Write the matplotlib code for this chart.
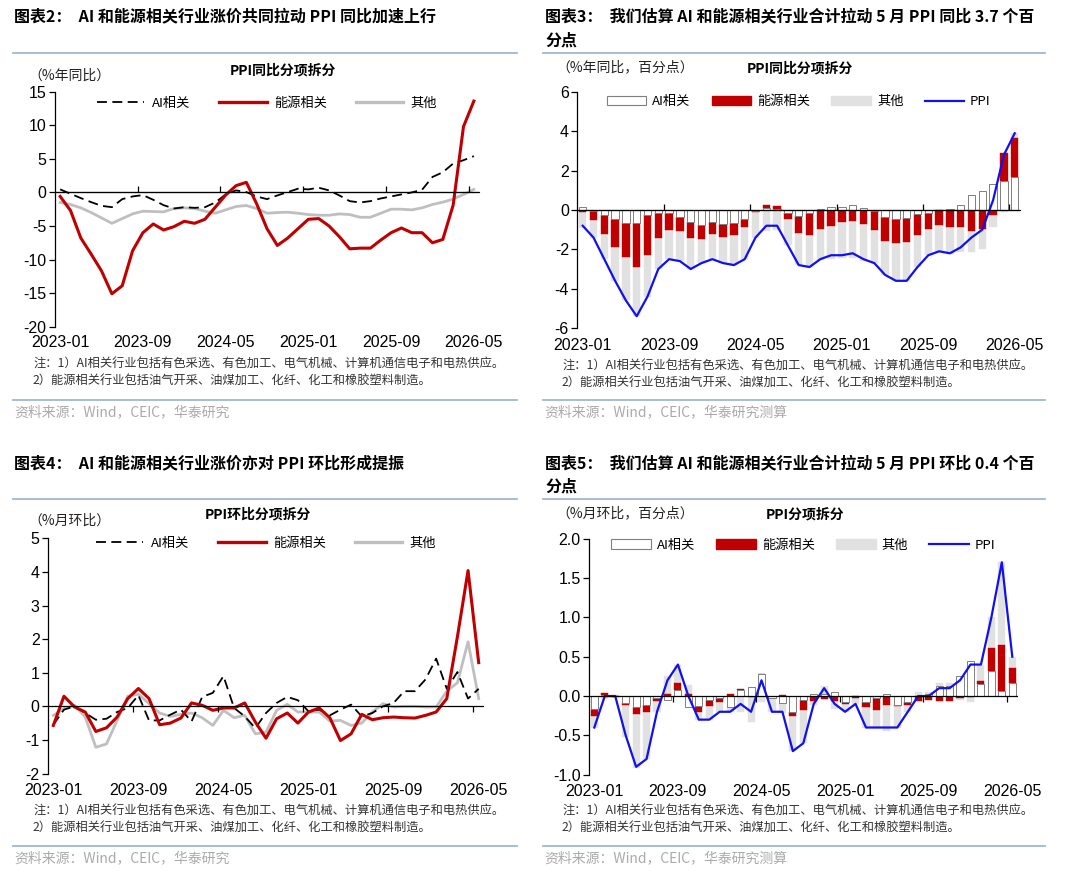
import matplotlib
matplotlib.use('Agg')
import matplotlib.pyplot as plt
from matplotlib.lines import Line2D
from matplotlib.patches import Patch
import numpy as np

plt.rcParams['font.family'] = ['Noto Sans CJK SC', 'DejaVu Sans']

# ---------------- data ----------------
months = [f'{y}-{m:02d}' for y in range(2023, 2027) for m in range(1, 13)][:41]
tick_labels = ['2023-01', '2023-09', '2024-05', '2025-01', '2025-09', '2026-05']

# Chart 2: YoY of industry groups (%)
yoy_ai = [0.45, -0.2, -0.85, -1.45, -2.0, -2.2, -1.0, -0.6, -0.4, -1.1, -1.9, -2.4, -2.2, -2.3, -2.2, -1.5,
          -0.3, 0.3, 0.05, -0.6, -1.0, -0.45, 0.05, 0.55, 0.45, 0.7, 0.3, -0.45, -1.3, -1.5, -1.3, -0.9,
          -0.6, -0.3, 0.0, 0.4, 2.3, 3.0, 4.3, 4.8, 5.4]
yoy_energy = [-0.6, -2.7, -6.8, -9.2, -11.7, -15.1, -13.9, -8.7, -6.0, -4.7, -5.6, -5.1, -4.3, -4.6, -4.0, -2.2,
              -0.4, 1.0, 1.5, -1.7, -5.4, -7.9, -6.8, -5.4, -4.0, -3.9, -5.0, -6.6, -8.4, -8.3, -8.3, -7.1,
              -6.0, -5.3, -6.0, -6.0, -7.5, -7.0, -1.9, 9.8, 13.6]
yoy_other = [-1.5, -1.8, -2.3, -3.0, -3.8, -4.6, -3.9, -3.2, -2.8, -2.85, -2.9, -2.4, -2.3, -2.4, -2.8, -3.1,
             -2.6, -2.1, -1.95, -2.4, -3.1, -3.0, -2.95, -3.1, -3.3, -3.4, -3.4, -3.2, -3.3, -3.7, -3.7, -3.1,
             -2.5, -2.5, -2.6, -2.3, -1.8, -1.45, -1.0, -0.3, 0.45]

# Chart 3: YoY contributions (pp) and PPI YoY
ppi_yoy = [-0.8, -1.4, -2.5, -3.6, -4.6, -5.4, -4.4, -3.0, -2.5, -2.6, -3.0, -2.7, -2.5, -2.7, -2.8, -2.5,
           -1.4, -0.8, -0.8, -1.8, -2.8, -2.9, -2.5, -2.3, -2.3, -2.2, -2.5, -2.7, -3.3, -3.6, -3.6, -2.9,
           -2.3, -2.1, -2.2, -1.9, -1.4, -1.0, 0.5, 2.8, 3.9]
con_yoy_ai = [0.14, -0.03, -0.25, -0.46, -0.64, -0.64, -0.25, -0.14, -0.17, -0.37, -0.63, -0.78, -0.61, -0.73,
              -0.66, -0.46, -0.04, 0.08, 0.03, -0.17, -0.30, -0.14, 0.05, 0.17, 0.14, 0.24, 0.08, -0.03, -0.34,
              -0.44, -0.42, -0.22, -0.14, 0.02, 0.05, 0.24, 0.75, 0.98, 1.32, 1.45, 1.66]
con_yoy_energy = [-0.08, -0.47, -0.98, -1.41, -1.73, -2.24, -2.03, -1.27, -0.85, -0.68, -0.81, -0.71, -0.63,
                  -0.66, -0.61, -0.39, -0.08, 0.17, 0.19, -0.27, -0.85, -1.13, -0.98, -0.80, -0.60, -0.56,
                  -0.71, -0.98, -1.22, -1.22, -1.19, -1.05, -0.85, -0.78, -0.85, -0.85, -1.07, -0.98, -0.25,
                  1.45, 2.02]
con_yoy_other = [-0.86, -0.90, -1.27, -1.73, -2.23, -2.52, -2.12, -1.59, -1.48, -1.55, -1.56, -1.21, -1.26,
                 -1.31, -1.53, -1.65, -1.28, -1.05, -1.02, -1.36, -1.65, -1.63, -1.57, -1.67, -1.84, -1.88,
                 -1.87, -1.69, -1.74, -1.94, -1.99, -1.63, -1.31, -1.34, -1.40, -1.29, -1.08, -1.00, -0.63,
                 -0.10, 0.22]

# Chart 4: MoM of industry groups (%)
mom_ai = [-0.55, -0.1, 0.0, -0.2, -0.4, -0.37, -0.17, -0.05, 0.33, -0.42, -0.42, -0.25, -0.1, -0.45, 0.28, 0.4,
          0.9, -0.05, -0.3, -0.65, -0.2, 0.1, 0.28, 0.18, -0.15, -0.1, -0.27, -0.1, 0.05, -0.3, -0.2, 0.0,
          0.1, 0.45, 0.45, 0.8, 1.42, 0.52, 1.02, 0.23, 0.52]
mom_energy = [-0.57, 0.3, -0.02, -0.17, -0.75, -0.64, -0.32, 0.23, 0.53, 0.23, -0.55, -0.5, -0.35, 0.1, 0.03,
              -0.12, -0.05, -0.05, 0.1, -0.47, -0.95, -0.37, -0.2, -0.5, -0.17, -0.05, -0.34, -1.02, -0.82,
              -0.24, -0.4, -0.34, -0.32, -0.34, -0.35, -0.27, -0.17, 0.23, 2.07, 4.04, 1.3]
mom_other = [-0.27, -0.07, 0.03, -0.32, -1.22, -1.12, -0.42, 0.3, 0.36, 0.08, -0.2, -0.3, -0.24, -0.2, -0.34,
             -0.57, -0.12, -0.34, -0.27, -0.82, -0.77, -0.12, 0.06, -0.17, -0.17, -0.17, -0.44, -0.42, -0.57,
             -0.5, -0.17, 0.08, -0.02, 0.0, 0.0, -0.02, -0.02, 0.45, 0.7, 1.92, 0.23]

# Chart 5: MoM contributions (pp) and PPI MoM
ppi_mom = [-0.4, 0.0, 0.0, -0.5, -0.9, -0.8, -0.2, 0.2, 0.4, 0.0, -0.3, -0.3, -0.2, -0.2, -0.1, -0.2, 0.2,
           -0.2, -0.2, -0.7, -0.6, -0.1, 0.1, -0.1, -0.2, -0.1, -0.4, -0.4, -0.4, -0.4, -0.2, 0.0, 0.0, 0.1,
           0.1, 0.2, 0.4, 0.4, 1.0, 1.7, 0.5]
con_mom_ai = [-0.17, 0.01, 0.0, -0.09, -0.14, -0.11, -0.03, -0.05, 0.08, -0.14, -0.13, -0.05, -0.03, -0.14,
              0.08, 0.12, 0.28, -0.02, -0.09, -0.2, -0.05, 0.02, 0.03, 0.05, -0.07, 0.0, -0.08, -0.03, 0.03,
              -0.11, -0.08, 0.0, 0.03, 0.13, 0.13, 0.25, 0.45, 0.15, 0.32, 0.06, 0.17]
con_mom_energy = [-0.08, 0.03, -0.01, -0.03, -0.09, -0.09, -0.03, 0.03, 0.08, 0.03, -0.07, -0.08, -0.04, 0.02,
                  0.01, -0.01, 0.0, -0.01, 0.01, -0.06, -0.13, -0.06, -0.04, -0.06, -0.03, -0.02, -0.06, -0.15,
                  -0.11, -0.02, -0.04, -0.06, -0.05, -0.06, -0.06, -0.02, -0.01, 0.04, 0.29, 0.59, 0.19]
con_mom_other = [-0.16, -0.04, 0.01, -0.4, -0.68, -0.6, -0.14, 0.22, 0.23, 0.11, -0.1, -0.18, -0.13, -0.06,
                 -0.2, -0.32, -0.08, -0.17, -0.12, -0.44, -0.42, -0.06, 0.1, -0.1, -0.1, -0.08, -0.27, -0.23,
                 -0.33, -0.27, -0.08, 0.05, 0.02, 0.03, 0.03, -0.03, -0.06, 0.2, 0.4, 1.06, 0.14]

# ---------------- style ----------------
RED = '#C00000'
GRAY_LINE = '#BFBFBF'
GRAY_BAR = '#E1E1E1'
BLUE = '#1010F0'
SEP = '#A3B6CF'
TICK_FONT = 'Liberation Sans'

W, H = 1080, 871
fig = plt.figure(figsize=(W / 100, H / 100), dpi=100)


def fx(px):
    return px / W


def fy(py):
    return 1 - py / H


def add_ax(left, right, top, bottom):
    return fig.add_axes([fx(left), fy(bottom), (right - left) / W, (bottom - top) / H])


def txt(x, y, s, **kw):
    kw.setdefault('va', 'center')
    kw.setdefault('ha', 'left')
    fig.text(fx(x), fy(y), s, **kw)


def sep(x0, x1, y):
    fig.add_artist(Line2D([fx(x0), fx(x1)], [fy(y), fy(y)], color=SEP, lw=1.3))


def style_axis(ax, ylim, yticks, fmt, xpad):
    n = len(months)
    ax.set_xlim(-0.5, n - 0.5)
    ax.set_ylim(*ylim)
    for s in ['top', 'right', 'bottom']:
        ax.spines[s].set_visible(False)
    ax.spines['left'].set_linewidth(0.9)
    ax.set_yticks(yticks)
    ax.set_yticklabels([fmt.format(v) for v in yticks], fontfamily=TICK_FONT, fontsize=11.5)
    ax.tick_params(axis='y', direction='out', length=4, width=0.9, pad=2)
    ax.set_xticks(list(range(0, n, 8)))
    ax.set_xticklabels(tick_labels, fontfamily=TICK_FONT, fontsize=11.5)
    ax.tick_params(axis='x', length=0, pad=xpad)
    ax.axhline(0, color='black', lw=0.9, zorder=6)
    frac = (0 - ylim[0]) / (ylim[1] - ylim[0])
    sec = ax.secondary_xaxis(frac)
    sec.set_xticks([b - 0.5 for b in range(8, n, 8)])
    sec.set_xticklabels([])
    sec.tick_params(direction='out', length=4, width=0.9)
    sec.spines['bottom'].set_visible(False)
    sec.set_zorder(7)
    ax.patch.set_alpha(0)


def line_panel(ax, a, e, o, legend_y):
    x = np.arange(len(months))
    ax.plot(x, o, color=GRAY_LINE, lw=2.0, zorder=3)
    ax.plot(x, a, color='black', lw=1.3, ls=(0, (5.5, 3)), zorder=4)
    ax.plot(x, e, color=RED, lw=2.2, zorder=5)
    handles = [Line2D([], [], color='black', lw=1.3, ls=(0, (5.5, 3))),
               Line2D([], [], color=RED, lw=2.4),
               Line2D([], [], color=GRAY_LINE, lw=2.4)]
    ax.legend(handles, ['AI相关', '能源相关', '其他'], ncol=3, loc='center',
              bbox_to_anchor=(0.5, legend_y), frameon=False, fontsize=9.5,
              handlelength=3.6, handletextpad=0.55, columnspacing=2.2)


def bar_panel(ax, a, e, o, ppi, legend_y):
    x = np.arange(len(months))
    pos = np.zeros(len(x))
    neg = np.zeros(len(x))
    width = 0.68
    specs = [(a, dict(facecolor='white', edgecolor='#7F7F7F', linewidth=0.7)),
             (e, dict(facecolor=RED, edgecolor=RED, linewidth=0.3)),
             (o, dict(facecolor=GRAY_BAR, edgecolor=GRAY_BAR, linewidth=0.3))]
    for k, (vals, kw) in enumerate(specs):
        v = np.asarray(vals, dtype=float)
        bottom = np.where(v >= 0, pos, neg)
        ax.bar(x, v, width=width, bottom=bottom, zorder=3 - k * 0.1, **kw)
        pos = pos + np.where(v >= 0, v, 0)
        neg = neg + np.where(v < 0, v, 0)
    ax.plot(x, ppi, color=BLUE, lw=1.6, zorder=5)
    handles = [Patch(facecolor='white', edgecolor='#7F7F7F', linewidth=0.8),
               Patch(facecolor=RED, edgecolor=RED),
               Patch(facecolor=GRAY_BAR, edgecolor=GRAY_BAR),
               Line2D([], [], color=BLUE, lw=1.6)]
    ax.legend(handles, ['AI相关', '能源相关', '其他', 'PPI'], ncol=4, loc='center',
              bbox_to_anchor=(0.5, legend_y), frameon=False, fontsize=9.5,
              handlelength=3.0, handleheight=0.7, handletextpad=0.45, columnspacing=1.6)


TITLE_KW = dict(fontsize=11.5, fontweight='bold', color='black')
SUB_KW = dict(fontsize=10, fontweight='bold', color='black', ha='center')
UNIT_KW = dict(fontsize=10, color='#222222')
NOTE_KW = dict(fontsize=8.8, color='#333333')
SRC_KW = dict(fontsize=10, color='#AAAAAA')
note1 = '注：1）AI相关行业包括有色采选、有色加工、电气机械、计算机通信电子和电热供应。'
note2 = '2）能源相关行业包括油气开采、油煤加工、化纤、化工和橡胶塑料制造。'

# ---------------- Panel: 图表2 ----------------
txt(14, 16, '图表2：  AI 和能源相关行业涨价共同拉动 PPI 同比加速上行', **TITLE_KW)
sep(13, 517, 53)
txt(283, 70, 'PPI同比分项拆分', **SUB_KW)
txt(28, 76, '（%年同比）', **UNIT_KW)
ax1 = add_ax(55, 479, 91.7, 326.7)
style_axis(ax1, (-20, 15), list(range(-20, 16, 5)), '{:d}', 6)
line_panel(ax1, yoy_ai, yoy_energy, yoy_other, 0.951)
txt(33, 364, note1, **NOTE_KW)
txt(33, 380, note2, **NOTE_KW)
sep(13, 517, 400)
txt(14, 412, '资料来源：Wind，CEIC，华泰研究', **SRC_KW)

# ---------------- Panel: 图表3 ----------------
txt(545, 16, '图表3：  我们估算 AI 和能源相关行业合计拉动 5 月 PPI 同比 3.7 个百', **TITLE_KW)
txt(545, 41, '分点', **TITLE_KW)
sep(543, 1045, 53)
txt(800, 68, 'PPI同比分项拆分', **SUB_KW)
txt(556, 67, '（%年同比，百分点）', **UNIT_KW)
ax2 = add_ax(577.3, 1020.1, 92, 328)
style_axis(ax2, (-6, 6), list(range(-6, 7, 2)), '{:d}', 7)
bar_panel(ax2, con_yoy_ai, con_yoy_energy, con_yoy_other, ppi_yoy, 0.959)
txt(562, 366, note1, **NOTE_KW)
txt(562, 382, note2, **NOTE_KW)
sep(543, 1045, 400)
txt(544, 412, '资料来源：Wind，CEIC，华泰研究测算', **SRC_KW)

# ---------------- Panel: 图表4 ----------------
txt(14, 463, '图表4：  AI 和能源相关行业涨价亦对 PPI 环比形成提振', **TITLE_KW)
sep(13, 517, 499)
txt(258, 514, 'PPI环比分项拆分', **SUB_KW)
txt(28, 521, '（%月环比）', **UNIT_KW)
ax3 = add_ax(48.0, 484.0, 538.3, 773.5)
style_axis(ax3, (-2, 5), list(range(-2, 6, 1)), '{:d}', 7)
line_panel(ax3, mom_ai, mom_energy, mom_other, 0.978)
txt(33, 811, note1, **NOTE_KW)
txt(33, 827, note2, **NOTE_KW)
sep(13, 517, 846)
txt(14, 858, '资料来源：Wind，CEIC，华泰研究', **SRC_KW)

# ---------------- Panel: 图表5 ----------------
txt(545, 463, '图表5：  我们估算 AI 和能源相关行业合计拉动 5 月 PPI 环比 0.4 个百', **TITLE_KW)
txt(545, 487, '分点', **TITLE_KW)
sep(543, 1045, 499)
txt(805, 514, 'PPI分项拆分', **SUB_KW)
txt(556, 513, '（%月环比，百分点）', **UNIT_KW)
ax4 = add_ax(589.1, 1017.5, 538.7, 774.7)
style_axis(ax4, (-1.0, 2.0), [-1.0, -0.5, 0.0, 0.5, 1.0, 1.5, 2.0], '{:.1f}', 7)
bar_panel(ax4, con_mom_ai, con_mom_energy, con_mom_other, ppi_mom, 0.973)
txt(562, 811, note1, **NOTE_KW)
txt(562, 827, note2, **NOTE_KW)
sep(543, 1045, 846)
txt(544, 858, '资料来源：Wind，CEIC，华泰研究测算', **SRC_KW)

fig.savefig('out.png', dpi=100)
